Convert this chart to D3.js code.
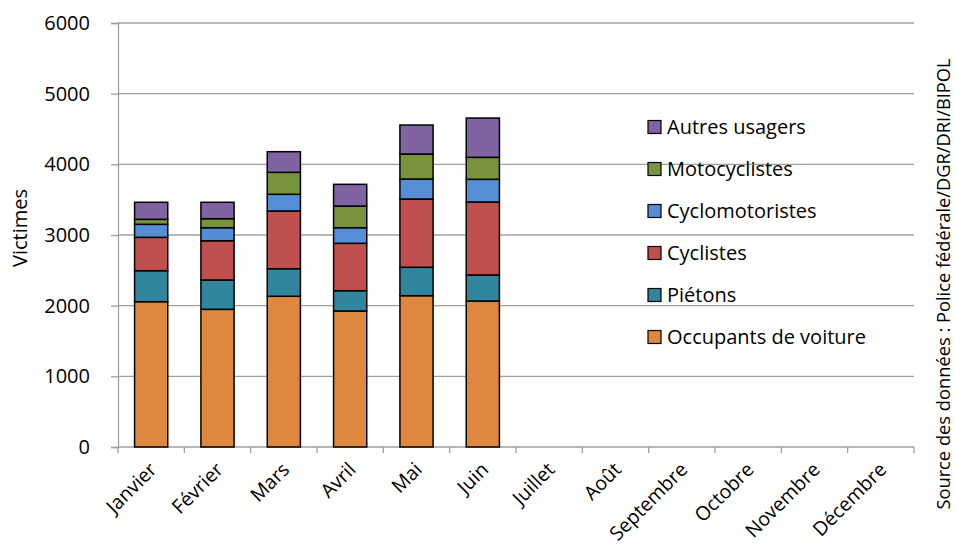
<!DOCTYPE html>
<html><head><meta charset="utf-8">
<script src="https://cdn.jsdelivr.net/npm/d3@7"></script>
<style>body{margin:0;background:#fff}svg{display:block}text{font-family:"Open Sans",Lato,sans-serif;fill:#000}</style>
</head><body>
<svg id="c" width="955" height="549"></svg>
<script>
const months = ["Janvier","Février","Mars","Avril","Mai","Juin","Juillet","Août","Septembre","Octobre","Novembre","Décembre"];
const seriesNames = ["Occupants de voiture","Piétons","Cyclistes","Cyclomotoristes","Motocyclistes","Autres usagers"];
const occupants = [2056,1948,2133,1925,2141,2066,null,null,null,null,null,null];
const pietons   = [439,415,390,287,402,368,null,null,null,null,null,null];
const cyclistes = [472,556,817,670,966,1033,null,null,null,null,null,null];
const cyclomoto = [184,184,236,221,283,321,null,null,null,null,null,null];
const motocycl  = [71,128,311,307,354,311,null,null,null,null,null,null];
const autres    = [241,232,292,307,410,556,null,null,null,null,null,null];
const yTicks = [0,1000,2000,3000,4000,5000,6000];
const colors = ["#DE873E","#31859C","#C0504D","#558ED5","#77933C","#8064A2"];

const seriesVals = [occupants,pietons,cyclistes,cyclomoto,motocycl,autres];
const rows = months.map((m,i)=>{const r={month:m}; seriesNames.forEach((s,j)=>r[s]=seriesVals[j][i]||0); r.has=seriesVals[0][i]!=null; return r;});
const stack = d3.stack().keys(seriesNames)(rows);

const svg = d3.select("#c");
const L=118,R=914,T=23,B=447;
const x = d3.scaleBand().domain(months).range([L,R]).paddingInner(0.5).paddingOuter(0.25);
const xb = d3.scaleBand().domain(months).range([L,R]);
const y = d3.scaleLinear().domain([0,6000]).range([B,T]);
const FS = "20px";

// gridlines
svg.append("g").selectAll("line").data(yTicks.filter(t=>t>0)).join("line")
  .attr("x1",L).attr("x2",R).attr("y1",d=>y(d)).attr("y2",d=>y(d))
  .attr("stroke","#a0a0a0").attr("stroke-width",1.3);

// y axis
const ya = svg.append("g").attr("transform",`translate(${L},0)`)
  .call(d3.axisLeft(y).tickValues(yTicks).tickFormat(d3.format("d")).tickSize(7).tickPadding(21));
ya.select(".domain").attr("stroke","#a0a0a0").attr("stroke-width",1.3);
ya.selectAll(".tick line").attr("stroke","#a0a0a0").attr("stroke-width",1.3);
ya.selectAll("text").style("font-size",FS).style("font-family","Open Sans");

// x axis
const xa = svg.append("g").attr("transform",`translate(0,${B})`);
xa.append("line").attr("x1",L).attr("x2",R).attr("stroke","#a0a0a0").attr("stroke-width",1.3);
xa.selectAll(".tk").data(d3.range(13)).join("line").attr("class","tk")
  .attr("x1",i=>L+i*xb.step()).attr("x2",i=>L+i*xb.step()).attr("y1",0).attr("y2",6)
  .attr("stroke","#a0a0a0").attr("stroke-width",1.3);
xa.selectAll(".lb").data(months).join("text").attr("class","lb")
  .attr("transform",d=>`translate(${xb(d)+xb.bandwidth()/2+2},19) rotate(-45)`)
  .attr("text-anchor","end").attr("dy","0.35em").style("font-size","19.5px").text(d=>d);

// bars
svg.append("g").selectAll("g").data(stack).join("g").attr("fill",(d,i)=>colors[i])
  .selectAll("rect").data(d=>d.filter(p=>p.data.has)).join("rect")
  .attr("x",d=>x(d.data.month)).attr("width",x.bandwidth())
  .attr("y",d=>y(d[1])).attr("height",d=>y(d[0])-y(d[1]))
  .attr("stroke","#000").attr("stroke-width",1.5);

// legend
const lg = svg.append("g");
const legOrder = seriesNames.map((s,i)=>({s,c:colors[i]})).reverse();
const li = lg.selectAll("g").data(legOrder).join("g").attr("transform",(d,i)=>`translate(648,${127+i*42})`);
li.append("rect").attr("x",0).attr("y",-6.5).attr("width",13).attr("height",13).attr("fill",d=>d.c).attr("stroke","#000").attr("stroke-width",1.2);
li.append("text").attr("x",19).attr("dy","0.36em").style("font-size",FS).text(d=>d.s);

// titles
svg.append("text").attr("transform","translate(27,228) rotate(-90)").attr("text-anchor","middle").style("font-size",FS).text("Victimes");
svg.append("text").attr("transform","translate(950,284) rotate(-90)").attr("text-anchor","middle").style("font-size","18.3px").text("Source des données : Police fédérale/DGR/DRI/BIPOL");
</script>
</body></html>
